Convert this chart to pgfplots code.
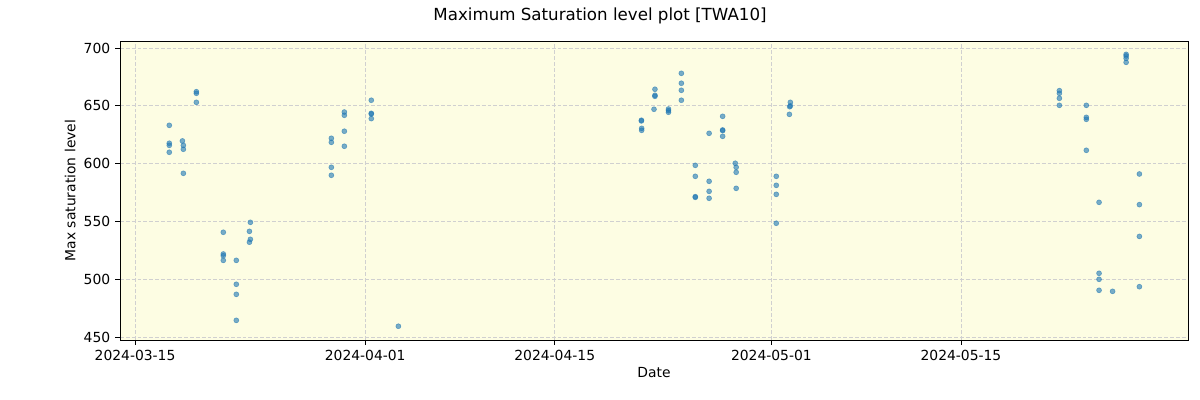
\documentclass[border=0pt]{standalone}
\usepackage{pgfplots}
\pgfplotsset{compat=1.18}
\usepackage{fontspec}
\setmainfont{DejaVu Sans}
\definecolor{bgy}{HTML}{FDFDE3}
\definecolor{mplblue}{HTML}{1F77B4}
\definecolor{gridc}{HTML}{D0D0D0}
\begin{document}
\begin{tikzpicture}
\useasboundingbox (-86.4bp,-43.2bp) rectangle (777.6bp,244.8bp);
\begin{axis}[
  at={(0,0)}, anchor=south west,
  scale only axis, width=768.96bp, height=215.28bp,
  xmin=-1.11, xmax=77.77, ymin=447.4, ymax=706.05,
  axis background/.style={fill=bgy},
  xtick={0,17,31,47,61},
  xticklabels={2024-03-15,2024-04-01,2024-04-15,2024-05-01,2024-05-15},
  ytick={450,500,...,700},
  grid=major,
  major grid style={gridc, dash pattern=on 2.8bp off 1.4bp, line width=0.6pt},
  tick style={black, line width=0.6pt},
  tick align=outside, tickpos=left,
  major tick length=3.5bp,
  axis line style={line width=0.6pt},
  /pgf/number format/assume math mode=true,
  ticklabel style={font=\fontsize{10bp}{12bp}\selectfont},
  xlabel={Date}, ylabel={Max saturation level},
  label style={font=\fontsize{10bp}{12bp}\selectfont},
  xlabel style={yshift=2bp},
  ylabel style={yshift=-1bp},
]
\addplot[only marks, mark=*, mark size=1.8bp, mark options={fill=mplblue, draw=mplblue, fill opacity=0.6, draw opacity=0.6}] coordinates {
(2.53,633.1) (2.53,617.6) (2.53,615.8) (2.53,609.8)
(3.50,619.6) (3.57,615.8) (3.57,612.4) (3.57,591.6)
(4.53,662.2) (4.53,660.8) (4.53,653.0)
(6.52,540.6) (6.52,521.8) (6.52,520.3) (6.52,516.3)
(7.48,516.3) (7.48,495.6) (7.48,486.9) (7.48,464.4)
(8.52,549.2) (8.45,541.4) (8.52,534.5) (8.45,532.0)
(14.50,621.9) (14.50,618.4) (14.50,596.8) (14.50,589.9)
(15.46,644.6) (15.46,641.8) (15.46,628.0) (15.46,615.0)
(17.45,654.8) (17.45,643.5) (17.45,642.9) (17.45,638.9)
(19.45,459.3)
(37.40,637.5) (37.40,636.9) (37.42,630.5) (37.42,628.8)
(38.40,664.3) (38.40,659.1) (38.40,658.2) (38.33,647.0)
(39.40,647.2) (39.40,645.8) (39.40,644.4)
(40.35,678.1) (40.35,669.5) (40.35,663.4) (40.35,654.8)
(41.38,598.5) (41.38,589.0) (41.38,571.4) (41.38,570.8)
(42.40,626.2) (42.40,584.7) (42.40,576.0) (42.40,570.0)
(43.40,640.9) (43.40,629.1) (43.40,628.5) (43.40,623.6)
(44.33,600.3) (44.40,596.8) (44.40,592.5) (44.40,578.6)
(47.36,589.0) (47.36,581.2) (47.36,573.4) (47.36,548.4)
(48.40,653.0) (48.35,649.2) (48.40,649.9) (48.33,642.6)
(68.27,663.1) (68.27,660.8) (68.27,656.5) (68.27,650.4)
(70.26,650.4) (70.26,640.0) (70.26,638.3) (70.26,611.5)
(71.20,566.5) (71.20,505.1) (71.20,499.9) (71.20,490.4)
(72.20,489.5)
(73.20,694.5) (73.20,693.1) (73.20,691.1) (73.20,687.6)
(74.18,591.0) (74.18,564.5) (74.18,537.0) (74.18,493.5)
};
\end{axis}
\node[font=\fontsize{12bp}{14bp}\selectfont] at (345.6bp,233.3bp) {Maximum Saturation level plot [TWA10]};
\end{tikzpicture}
\end{document}
